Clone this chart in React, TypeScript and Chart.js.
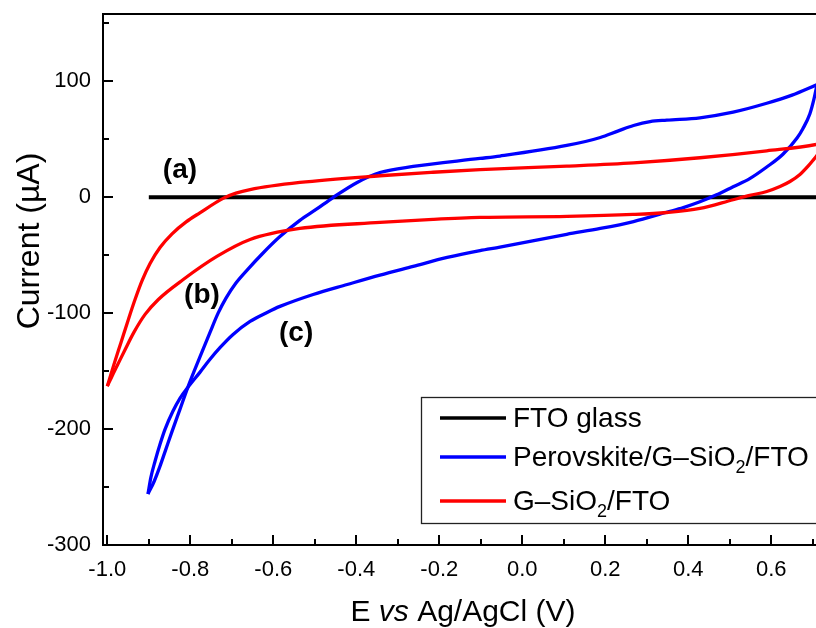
import React, { useEffect, useRef } from "react";
import { Chart, registerables } from "chart.js";

Chart.register(...registerables);

// ---------- data (E in V vs Ag/AgCl, current in µA) ----------
const ftoE = [-0.9, 0.75];
const ftoI = [0, 0];

// Perovskite/G–SiO2/FTO: anodic (forward) and cathodic (reverse) sweeps
const perovskiteFwdE = [
  -0.902, -0.887, -0.873, -0.859, -0.844, -0.825, -0.806, -0.777, -0.753, -0.733, -0.714, -0.69, -0.661, -0.627,
  -0.584, -0.536, -0.497, -0.456, -0.398, -0.343, -0.263, -0.102, -0.054, 0.107, 0.188, 0.23, 0.268, 0.308, 0.348,
  0.428, 0.508, 0.589, 0.65, 0.71,
];
const perovskiteFwdI = [
  -256, -245, -232, -217.5, -202, -183, -164, -138, -117, -100, -87, -74, -62, -49,
  -34, -20, -10.6, -0.3, 12.7, 21.3, 26.5, 33.4, 35.5, 44.6, 51.5, 57, 61.8, 65.2, 66.5,
  68.5, 73.3, 81, 88, 97,
];
const perovskiteRevE = [
  0.71, 0.703, 0.693, 0.676, 0.662, 0.628, 0.589, 0.548, 0.508, 0.468, 0.428, 0.388, 0.348, 0.268, 0.188, 0.107,
  -0.054, -0.102, -0.181, -0.263, -0.343, -0.422, -0.504, -0.584, -0.615, -0.656, -0.697, -0.728, -0.753, -0.777,
  -0.806, -0.825, -0.842, -0.861, -0.873, -0.885, -0.895, -0.902,
];
const perovskiteRevI = [
  97, 85, 72, 59, 51, 37, 26, 16, 9, 2, -4, -9, -13, -21, -27, -32,
  -43, -46, -52, -59.7, -67.2, -75.3, -83.9, -94.2, -99.4, -107.2, -118.4, -129.6, -140, -151.1,
  -164.1, -173.5, -184.7, -200.3, -213.2, -227.8, -241.6, -256,
];

// G–SiO2/FTO
const sio2FwdE = [
  -1.0, -0.984, -0.967, -0.95, -0.933, -0.916, -0.897, -0.873, -0.844, -0.81, -0.777, -0.721, -0.69, -0.656, -0.536,
  -0.343, -0.215, -0.102, 0.107, 0.268, 0.428, 0.589, 0.708, 0.745,
];
const sio2FwdI = [
  -163, -144.2, -125.3, -106.3, -88.1, -71.8, -57.2, -43.4, -31.6, -21.3, -13.5, -1, 3.5, 6.6, 12.7,
  18.5, 21.5, 23.8, 26.8, 29.6, 34, 40, 45.5, 49,
];
const sio2RevE = [
  0.745, 0.725, 0.708, 0.688, 0.669, 0.645, 0.621, 0.589, 0.548, 0.508, 0.428, 0.348, 0.267, 0.108, -0.102, -0.215,
  -0.343, -0.536, -0.656, -0.736, -0.817, -0.877, -0.909, -0.936, -0.957, -0.977, -0.989, -1.0,
];
const sio2RevI = [
  49, 42, 35.1, 26.5, 19.6, 13.5, 9.2, 4.9, 1.5, -2.2, -9.7, -13.2, -14.9, -16.6, -17.5, -19.2,
  -21.8, -27, -36.5, -51.1, -71, -88.2, -101.1, -116.6, -131.3, -145.9, -154.6, -163,
];

const xMajorTicks = [-1.0, -0.8, -0.6, -0.4, -0.2, 0.0, 0.2, 0.4, 0.6];
const xTickLabels = ["-1.0", "-0.8", "-0.6", "-0.4", "-0.2", "0.0", "0.2", "0.4", "0.6"];
const xMinorTicks = [-0.9, -0.7, -0.5, -0.3, -0.1, 0.1, 0.3, 0.5, 0.7];
const yMajorTicks = [-300, -200, -100, 0, 100];
const yTickLabels = ["-300", "-200", "-100", "0", "100"];
const yMinorTicks = [-250, -150, -50, 50, 150];

const seriesNames = ["FTO glass", "Perovskite/G–SiO", "G–SiO"];
const seriesColors = ["#000000", "#0000ff", "#ff0000"];
const curveLabels = ["(a)", "(b)", "(c)"];
const curveLabelE = [-0.825, -0.772, -0.545];
const curveLabelI = [23, -85, -117];

const FONT = "'Liberation Sans', Arial, Helvetica, sans-serif";

const toPoints = (xs: number[], ys: number[]) => xs.map((x, i) => ({ x, y: ys[i] }));

const decorPlugin = {
  id: "decor",
  afterDraw(chart: any) {
    const { ctx, chartArea, scales } = chart;
    const xs = scales.x;
    const ys = scales.y;
    ctx.save();
    ctx.strokeStyle = "#000";
    ctx.fillStyle = "#000";

    // top frame line
    ctx.lineWidth = 2;
    ctx.beginPath();
    ctx.moveTo(chartArea.left - 1, chartArea.top);
    ctx.lineTo(chartArea.right + 2, chartArea.top);
    ctx.stroke();

    // inward ticks
    ctx.lineWidth = 2;
    const drawX = (v: number, len: number) => {
      const p = Math.round(xs.getPixelForValue(v));
      ctx.beginPath();
      ctx.moveTo(p, chartArea.bottom);
      ctx.lineTo(p, chartArea.bottom - len);
      ctx.stroke();
    };
    const drawY = (v: number, len: number) => {
      const p = Math.round(ys.getPixelForValue(v));
      ctx.beginPath();
      ctx.moveTo(chartArea.left, p);
      ctx.lineTo(chartArea.left + len, p);
      ctx.stroke();
    };
    xMajorTicks.forEach((v) => drawX(v, 10));
    xMinorTicks.forEach((v) => drawX(v, 6));
    yMajorTicks.forEach((v) => drawY(v, 10));
    yMinorTicks.forEach((v) => drawY(v, 6));

    // curve labels
    ctx.font = `bold 28px ${FONT}`;
    ctx.textAlign = "center";
    ctx.textBaseline = "middle";
    curveLabels.forEach((t, i) => {
      ctx.fillText(t, xs.getPixelForValue(curveLabelE[i]), ys.getPixelForValue(curveLabelI[i]));
    });

    // x title with italic "vs"
    ctx.textBaseline = "alphabetic";
    ctx.textAlign = "left";
    const partsX = [
      { t: "E ", f: `30px ${FONT}` },
      { t: "vs", f: `italic 30px ${FONT}` },
      { t: " Ag/AgCl (V)", f: `30px ${FONT}` },
    ];
    let tw = 0;
    partsX.forEach((p) => {
      ctx.font = p.f;
      tw += ctx.measureText(p.t).width;
    });
    let cx = 463 - tw / 2;
    partsX.forEach((p) => {
      ctx.font = p.f;
      ctx.fillText(p.t, cx, 621);
      cx += ctx.measureText(p.t).width;
    });

    // y title
    ctx.save();
    ctx.translate(39, 241);
    ctx.rotate(-Math.PI / 2);
    ctx.font = `32px ${FONT}`;
    ctx.textAlign = "center";
    ctx.textBaseline = "alphabetic";
    ctx.fillText("Current (µA)", 0, 0);
    ctx.restore();

    // legend
    ctx.lineWidth = 1.3;
    ctx.strokeStyle = "#222";
    ctx.strokeRect(421.5, 397.5, 520, 126);
    const rowsY = [418, 457, 501];
    rowsY.forEach((yy, i) => {
      ctx.strokeStyle = seriesColors[i];
      ctx.lineWidth = 3.5;
      ctx.beginPath();
      ctx.moveTo(440, yy);
      ctx.lineTo(506, yy);
      ctx.stroke();
      ctx.fillStyle = "#000";
      ctx.textAlign = "left";
      ctx.textBaseline = "middle";
      ctx.font = `28px ${FONT}`;
      let tx = 513;
      ctx.fillText(seriesNames[i], tx, yy + 1);
      if (i > 0) {
        tx += ctx.measureText(seriesNames[i]).width;
        ctx.font = `18px ${FONT}`;
        ctx.fillText("2", tx, yy + 11);
        tx += ctx.measureText("2").width;
        ctx.font = `28px ${FONT}`;
        ctx.fillText("/FTO", tx, yy + 1);
      }
    });
    ctx.restore();
  },
};

const curve = (label: string, xs: number[], ys: number[], color: string, order: number) => ({
  label,
  data: toPoints(xs, ys),
  borderColor: color,
  borderWidth: 3.3,
  pointRadius: 0,
  cubicInterpolationMode: "monotone" as const,
  fill: false,
  order,
});

export default function App() {
  const ref = useRef<HTMLCanvasElement | null>(null);

  useEffect(() => {
    if (!ref.current) return;
    const chart = new Chart(ref.current, {
      type: "line",
      data: {
        datasets: [
          {
            label: "FTO glass",
            data: toPoints(ftoE, ftoI),
            borderColor: seriesColors[0],
            borderWidth: 4,
            pointRadius: 0,
            fill: false,
            order: 5,
          },
          curve("Perovskite/G–SiO2/FTO (forward)", perovskiteFwdE, perovskiteFwdI, seriesColors[1], 4),
          curve("Perovskite/G–SiO2/FTO (reverse)", perovskiteRevE, perovskiteRevI, seriesColors[1], 3),
          curve("G–SiO2/FTO (forward)", sio2FwdE, sio2FwdI, seriesColors[2], 2),
          curve("G–SiO2/FTO (reverse)", sio2RevE, sio2RevI, seriesColors[2], 1),
        ],
      },
      options: {
        responsive: false,
        animation: false,
        layout: { padding: { top: 14, right: 0, left: 0, bottom: 0 } },
        plugins: { legend: { display: false }, tooltip: { enabled: false } },
        scales: {
          x: {
            type: "linear",
            min: -1.0104,
            max: 0.7077,
            afterBuildTicks: (s: any) => {
              s.ticks = xMajorTicks.map((v) => ({ value: v }));
            },
            afterFit: (s: any) => {
              s.height = 83;
              s.paddingLeft = 0;
              s.paddingRight = 0;
            },
            grid: { display: false, drawTicks: false },
            border: { display: true, color: "#000", width: 2 },
            ticks: {
              color: "#000",
              font: { family: FONT, size: 22 },
              padding: 12,
              maxRotation: 0,
              autoSkip: false,
              callback: (_v: any, i: number) => xTickLabels[i],
            },
          },
          y: {
            type: "linear",
            min: -300,
            max: 158,
            afterBuildTicks: (s: any) => {
              s.ticks = yMajorTicks.map((v) => ({ value: v }));
            },
            afterFit: (s: any) => {
              s.width = 103;
              s.paddingTop = 0;
              s.paddingBottom = 0;
            },
            grid: { display: false, drawTicks: false },
            border: { display: true, color: "#000", width: 2 },
            ticks: {
              color: "#000",
              font: { family: FONT, size: 22 },
              padding: 12,
              autoSkip: false,
              callback: (_v: any, i: number) => yTickLabels[i],
            },
          },
        },
      },
      plugins: [decorPlugin],
    });
    return () => chart.destroy();
  }, []);

  return (
    <div style={{ position: "absolute", left: 0, top: 0, width: 816, height: 628, background: "#fff" }}>
      <canvas ref={ref} width={816} height={628} style={{ display: "block" }} />
    </div>
  );
}
